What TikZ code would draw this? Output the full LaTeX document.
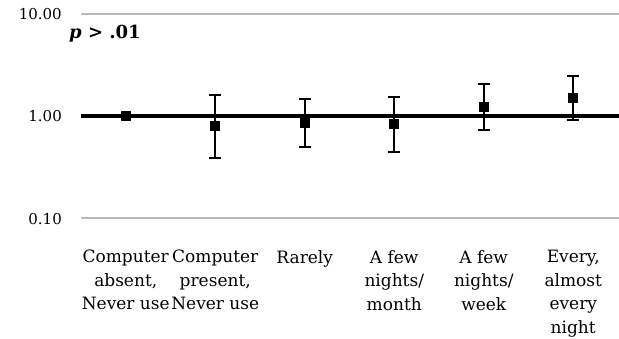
\documentclass[tikz,border=0pt]{standalone}
\usepackage{fontspec}
\setmainfont{DejaVu Serif}
\usetikzlibrary{positioning}

\begin{document}
\begin{tikzpicture}[x=1pt,y=-1pt,
        grid/.style={gray!55,line width=1.5pt},
        refline/.style={black,line width=4pt},
        marker/.style={fill=black,minimum size=10pt,inner sep=0pt},
        errbar/.style={black,line width=1.8pt},
        ticklabel/.style={anchor=east,inner sep=0pt,font=\fontsize{15}{18}\selectfont},
        catlabel/.style={anchor=north,align=center,inner sep=0pt,font=\fontsize{17}{23.5}\selectfont}]
        \useasboundingbox (0,0) rectangle (619,338);
        % axis lines
        \coordinate (g10l) at (81,14);  \coordinate (g10r) at (619,14);
        \coordinate (g1l) at (81,116);  \coordinate (g1r) at (619,116);
        \coordinate (g01l) at (81,218); \coordinate (g01r) at (619,218);
        \draw[grid] (g10l) -- (g10r);
        \draw[grid] (g01l) -- (g01r);
        \draw[refline] (g1l) -- (g1r);
        \node[ticklabel] (t10) at (62,14) {10.00};
        \node[ticklabel] (t1) at (62,116) {1.00};
        \node[ticklabel] (t01) at (62,219) {0.10};
        \node[font=\fontsize{18}{20}\selectfont\bfseries] (pval) at (105,34) {\textit{p} > .01};
        % data with error bars
        \node[marker] (pt1) at (125.75,116) {};
        \foreach \i/\x/\m/\t/\b in {2/215.25/126/95/158, 3/304.75/123/99/147, 4/394.25/124/97/152,
                                    5/483.75/107/84/130, 6/573.25/98/76/120}{
            \coordinate (hi\i) at (\x,\t);
            \coordinate (lo\i) at (\x,\b);
            \draw[errbar] (hi\i) -- (lo\i);
            \draw[errbar] ([xshift=-6pt]hi\i) -- ([xshift=6pt]hi\i);
            \draw[errbar] ([xshift=-6pt]lo\i) -- ([xshift=6pt]lo\i);
            \node[marker] (pt\i) at (\x,\m) {};
        }
        % categories
        \node[catlabel] (c1) at (125.75,250) {Computer\\absent,\\Never use};
        \node[catlabel] (c2) at (215.25,250) {Computer\\present,\\Never use};
        \node[catlabel] (c3) at (304.75,250) {Rarely};
        \node[catlabel] (c4) at (394.25,250) {A few\\nights/\\month};
        \node[catlabel] (c5) at (483.75,250) {A few\\nights/\\week};
        \node[catlabel] (c6) at (573.25,250) {Every,\\almost\\every\\night};
\end{tikzpicture}
\end{document}
